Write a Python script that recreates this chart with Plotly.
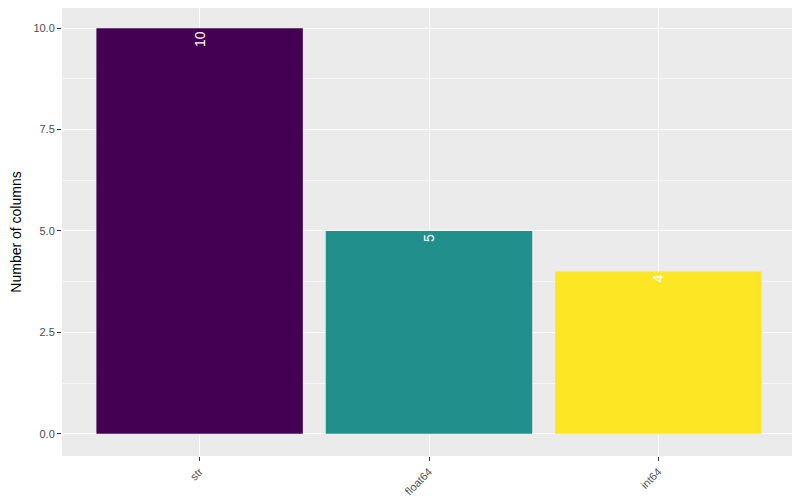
import plotly.graph_objects as go

dtypes = ["str", "float64", "int64"]
counts = [10, 5, 4]
colours = ["#440154", "#21908C", "#FDE725"]

fig = go.Figure()
fig.add_trace(go.Bar(x=dtypes, y=counts, marker_color=colours, marker_line_width=0, width=0.9,
                     text=[str(c) for c in counts], textposition="inside", insidetextanchor="end",
                     textangle=-90, textfont=dict(color="white", size=14), showlegend=False))

grid = dict(showgrid=True, gridcolor="white", gridwidth=1.2, zeroline=False,
            ticks="outside", ticklen=4, tickcolor="#333333", tickfont=dict(color="#4D4D4D", size=11))
fig.update_layout(
    width=800, height=500, margin=dict(l=54, r=12, t=0, b=52),
    plot_bgcolor="#EBEBEB", paper_bgcolor="white",
    font=dict(family="Liberation Sans, Arial", color="black"),
    bargap=0.1,
)
fig.update_xaxes(range=[-0.6, 2.6], tickangle=-45, **grid)
fig.update_yaxes(range=[-0.55, 10.5], tickvals=[0, 2.5, 5, 7.5, 10],
                 ticktext=["0.0", "2.5", "5.0", "7.5", "10.0"],
                 minor=dict(tickvals=[1.25, 3.75, 6.25, 8.75], showgrid=True, gridcolor="#F5F5F5", gridwidth=0.6),
                 title=dict(text="Number of columns", font=dict(size=14), standoff=8), **grid)
fig.write_html("out.html")
